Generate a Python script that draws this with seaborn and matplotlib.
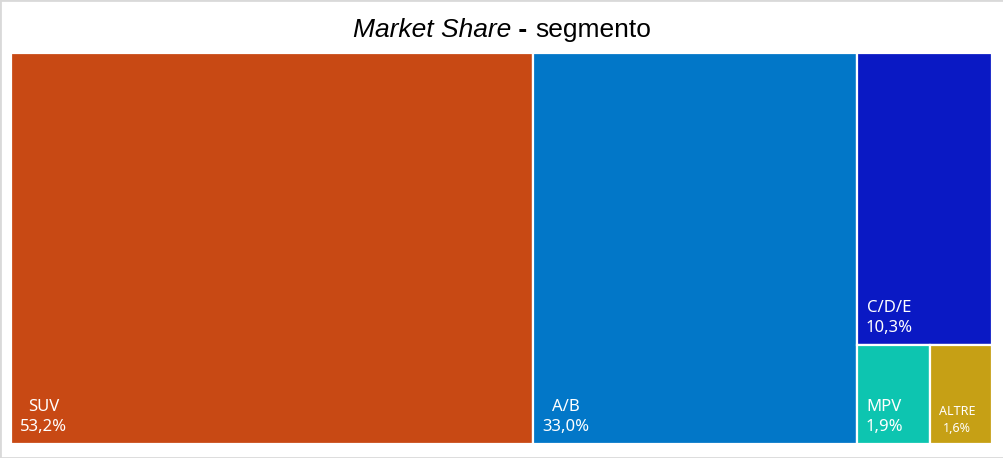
import matplotlib
matplotlib.use("Agg")
import matplotlib.pyplot as plt
import seaborn as sns
from matplotlib.patches import Rectangle

# ---- data ----
categories = ["SUV", "A/B", "C/D/E", "MPV", "ALTRE"]
shares = [53.2, 33.0, 10.3, 1.9, 1.6]
colors = ["#C84914", "#0277C8", "#0A19C4", "#0DC5B0", "#C6A015"]
label_sizes = [12, 12, 12, 12, 9]

sns.set_theme(style="white")
plt.rcParams['font.family'] = ['Noto Sans', 'DejaVu Sans']

W, H = 979.0, 389.0


def worst(row, side):
    s = sum(row)
    return max(max(side ** 2 * r / s ** 2, s ** 2 / (side ** 2 * r)) for r in row)


def squarify(vals, x, y, w, h):
    if not vals:
        return []
    side = min(w, h)
    row = [vals[0]]
    i = 1
    while i < len(vals) and worst(row + [vals[i]], side) <= worst(row, side):
        row.append(vals[i])
        i += 1
    s = sum(row)
    rects = []
    if w >= h:
        cw = s / h
        yy = y
        for r in row:
            rh = r / cw
            rects.append((x, yy, cw, rh))
            yy += rh
        return rects + squarify(vals[i:], x + cw, y, w - cw, h)
    else:
        rh = s / w
        xx = x
        for r in row:
            rw = r / rh
            rects.append((xx, y, rw, rh))
            xx += rw
        return rects + squarify(vals[i:], x, y + rh, w, h - rh)


total = sum(shares)
areas = [v / total * W * H for v in shares]
rects = squarify(areas, 0, 0, W, H)

fig = plt.figure(figsize=(10.04, 4.58), dpi=100)
ax = fig.add_axes([11 / 1004, (458 - 444) / 458, 981 / 1004, 391 / 458])

for (x, y, w, h), c, cat, v, fs in zip(rects, colors, categories, shares, label_sizes):
    ax.bar(x, h, width=w, bottom=y, align='edge', color=c, edgecolor='white', linewidth=1.6)
    lbl = f"{cat}\n{v:.1f}%".replace('.', ',')
    ax.annotate(lbl, xy=(x, y + h), xytext=(9, 9), textcoords='offset pixels',
                ha='left', va='bottom', multialignment='center', color='white',
                fontsize=fs, linespacing=1.35)

ax.set_xlim(0, W)
ax.set_ylim(H, 0)
ax.axis('off')

# title with mixed style
fig.canvas.draw()
r = fig.canvas.get_renderer()
parts = [("Market Share", dict(style='italic')),
         (" - ", dict(weight='bold')),
         ("segmento", dict())]
texts = [fig.text(0, 0, s, fontsize=19, family='Liberation Sans', color='black',
                  va='baseline', **kw) for s, kw in parts]
widths = [t.get_window_extent(r).width for t in texts]
cx = 502
pos = cx - sum(widths) / 2
yb = (458 - 37) / 458
for t, w in zip(texts, widths):
    t.set_position((pos / 1004, yb))
    pos += w

fig.patches.append(Rectangle((0, 0), 1, 1, transform=fig.transFigure, fill=False,
                             edgecolor='#D9D9D9', linewidth=2))

fig.savefig("out.png", dpi=100)
